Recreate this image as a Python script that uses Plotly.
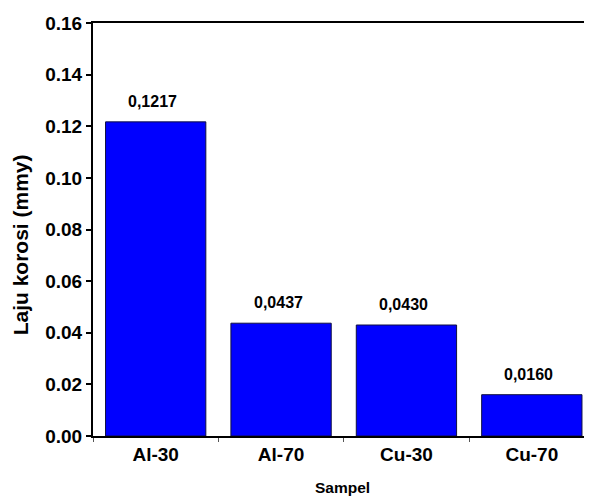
import plotly.graph_objects as go

categories = ["Al-30", "Al-70", "Cu-30", "Cu-70"]
values = [0.1217, 0.0437, 0.0430, 0.0160]
labels = ["0,1217", "0,0437", "0,0430", "0,0160"]

FONT = "Liberation Sans, Arial, sans-serif"

fig = go.Figure(go.Bar(
    x=categories, y=values,
    marker=dict(color="#0000FF", line=dict(color="#101040", width=1)),
    width=0.8,
))

for c, v, t in zip(categories, values, labels):
    fig.add_annotation(
        x=c, y=v, text=t, showarrow=False, yanchor="bottom", yshift=10, xshift=-3,
        font=dict(family=FONT, size=16, color="black", weight="bold"),
    )

# y-axis title placed as rotated annotation
fig.add_annotation(
    xref="paper", yref="paper", x=-0.146, y=0.462,
    text="<b>Laju korosi (mmy)</b>", textangle=-90, showarrow=False,
    xanchor="center", yanchor="middle",
    font=dict(family=FONT, size=21, color="black"),
)

fig.update_layout(
    width=584, height=492,
    margin=dict(l=85, r=0, t=15, b=64),
    plot_bgcolor="white", paper_bgcolor="white",
    showlegend=False,
    font=dict(family=FONT, color="black"),
    xaxis=dict(
        range=[-0.5, 3.48],
        showline=True, linecolor="black", linewidth=2, mirror=True,
        ticks="outside", tickson="boundaries", ticklen=4, tickcolor="#555",
        tickfont=dict(family=FONT, size=19, color="black", weight="bold"),
        title=dict(text="<b>Sampel</b>", font=dict(family=FONT, size=15.5), standoff=18),
        showgrid=False,
    ),
    yaxis=dict(
        range=[0, 0.16], dtick=0.02, tickformat=".2f",
        showline=True, linecolor="black", linewidth=2,
        ticks="outside", ticklen=5, tickwidth=2, tickcolor="black",
        tickfont=dict(family=FONT, size=19, color="black", weight="bold"),
        showgrid=False, zeroline=False,
    ),
)

fig.write_html("out.html")
